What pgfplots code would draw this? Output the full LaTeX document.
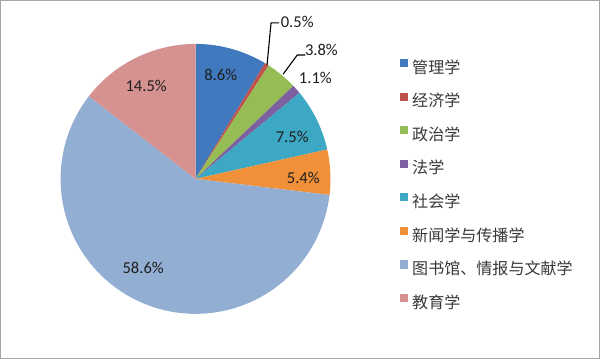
\documentclass[border=0pt]{standalone}
\usepackage{pgfplots}
\pgfplotsset{compat=1.18}
\usepackage{fontspec}
\setmainfont{Carlito}
\newfontfamily\cjk{Noto Sans CJK SC}
\definecolor{c1}{HTML}{4079BD}
\definecolor{c2}{HTML}{C0504D}
\definecolor{c3}{HTML}{96BD55}
\definecolor{c4}{HTML}{7D60A0}
\definecolor{c5}{HTML}{3DA8C4}
\definecolor{c6}{HTML}{F0913A}
\definecolor{c7}{HTML}{93AED3}
\definecolor{c8}{HTML}{D69290}
\definecolor{lbl}{HTML}{1E1E1E}
\def\cx{195}\def\cy{183}\def\pr{134}
\gdef\acc{0}
\newcommand\slice[3]{%
  \pgfmathparse{90-3.6*\acc}\let\sa\pgfmathresult
  \pgfmathparse{90-3.6*(\acc+#1)}\let\sb\pgfmathresult
  \pgfmathparse{\acc+#1}\xdef\acc{\pgfmathresult}%
  \edef\tmp{\noexpand\addplot[draw=none, fill=#2, domain=\sb:\sa, samples=90] ({\cx+\pr*cos(x)},{\cy+\pr*sin(x)}) -- (axis cs:\cx,\cy) -- cycle;}%
  \tmp
  \addlegendentry{#3}%
}
\begin{document}
\begin{tikzpicture}
\begin{axis}[
  width=600bp, height=364bp, scale only axis,
  xmin=0, xmax=600, ymin=0, ymax=364,
  hide axis, clip=false,
  legend style={at={(axis cs:395,304)}, anchor=north west, draw=none, fill=none,
    font=\cjk\fontsize{16}{18}\selectfont, text=black!78,
    row sep=16.3bp, column sep=4bp,
    nodes={inner sep=0pt, text height=11bp, text depth=3bp}},
  legend cell align=left,
  legend image code/.code={\fill[#1] (0bp,2bp) rectangle (8bp,10bp);},
]
\slice{8.6}{c1}{管理学}
\slice{0.5}{c2}{经济学}
\slice{3.8}{c3}{政治学}
\slice{1.1}{c4}{法学}
\slice{7.5}{c5}{社会学}
\slice{5.4}{c6}{新闻学与传播学}
\slice{58.6}{c7}{图书馆、情报与文献学}
\slice{14.5}{c8}{教育学}
\begin{scope}[font=\fontsize{16.5}{19}\selectfont, text=lbl]
\node at (axis cs:220,286) {8.6\%};
\node at (axis cs:296,339) {0.5\%};
\node at (axis cs:320,311) {3.8\%};
\node at (axis cs:314,283) {1.1\%};
\node at (axis cs:291,225) {7.5\%};
\node at (axis cs:302,184) {5.4\%};
\node at (axis cs:143,95) {58.6\%};
\node at (axis cs:146,275) {14.5\%};
\end{scope}
\draw[black, line width=1.1bp] (axis cs:266,296) -- (axis cs:270,338) -- (axis cs:278,338);
\draw[black, line width=1.1bp] (axis cs:282,287) -- (axis cs:296,306) -- (axis cs:304,306);
\draw[gray!70, line width=1.3bp] (axis cs:1.5,5) rectangle (axis cs:596,360);
\end{axis}
\end{tikzpicture}
\end{document}
